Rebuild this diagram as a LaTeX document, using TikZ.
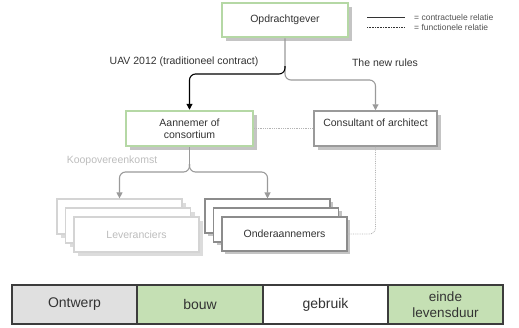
\documentclass[tikz,border=0pt]{standalone}
\usepackage{fontspec}
\setmainfont{Liberation Sans}
\usetikzlibrary{shadows,arrows.meta}
\definecolor{boxgreen}{HTML}{B5D8A5}
\definecolor{cellgreen}{HTML}{C5E0B4}
\definecolor{cellgray}{HTML}{E0E0E0}
\definecolor{textdark}{HTML}{333333}
\definecolor{linegray}{HTML}{9A9A9A}
\definecolor{palegray}{HTML}{D4D4D4}
\definecolor{paletext}{HTML}{BDBDBD}
\definecolor{shadowgray}{HTML}{C4C4C4}
\definecolor{paleshadow}{HTML}{DCDCDC}
\definecolor{stackgray}{HTML}{8C8C8C}
\definecolor{framegray}{HTML}{3C3C3C}
\definecolor{dotgray}{HTML}{B4B4B4}

\begin{document}
\begin{tikzpicture}[x=1pt,y=-1pt,
  base/.style={font=\fontsize{10.5}{12}\selectfont, text=textdark, inner sep=0pt, align=center},
  shadowed/.style={drop shadow={shadow xshift=4pt, shadow yshift=-4pt, fill=#1, opacity=1}},
  greenbox/.style={base, shadowed=shadowgray, draw=boxgreen, line width=2.5pt, fill=white,
    minimum width=126pt, minimum height=34pt},
  graybox/.style={base, shadowed=shadowgray, draw=linegray, line width=1.5pt, fill=white,
    minimum width=123pt, minimum height=35pt},
  levbox/.style={base, shadowed=paleshadow, draw=palegray, line width=1.2pt, fill=white,
    text=paletext, minimum width=125pt, minimum height=35pt},
  ondbox/.style={base, drop shadow={shadow xshift=3pt, shadow yshift=-3pt, fill=shadowgray, opacity=1},
    draw=stackgray, line width=1.1pt, fill=white, minimum width=125pt, minimum height=34pt},
  cell/.style={font=\fontsize{14}{16}\selectfont, text=textdark, draw=framegray, line width=1.8pt,
    minimum width=125.5pt, minimum height=39pt, inner sep=0pt, align=center},
  label/.style={base},
  contract/.style={draw=black, line width=1.1pt, rounded corners=6pt, -{Triangle[width=6pt,length=6pt]}},
  newrule/.style={draw=linegray, line width=1.1pt, rounded corners=6pt, -{Triangle[width=6pt,length=6pt]}},
  functional/.style={draw=dotgray, line width=0.8pt, densely dotted, rounded corners=6pt},
]
\useasboundingbox (0,0) rectangle (519,327);

% main parties
\node[greenbox] (opd) at (285,20) {Opdrachtgever};
\node[greenbox, minimum width=127pt, minimum height=35pt] (aan) at (189.5,128.5) {Aannemer of\\consortium};
\node[graybox] (cons) at (375.5,128.5) {Consultant of architect\\\mbox{}};

% supplier stack
\node[levbox] (lev3) at (119.5,216.5) {};
\node[levbox] (lev2) at (128,225.5) {};
\node[levbox] (lev1) at (136.5,234.5) {Leveranciers};

% subcontractor stack
\node[ondbox] (ond3) at (267.5,216) {};
\node[ondbox] (ond2) at (276,225) {};
\node[ondbox] (ond1) at (284.5,234) {Onderaannemers};

% branching points
\coordinate (split) at (285,66);
\coordinate (split2) at (189.5,164);

% contractual routes from the client
\draw[newrule] (opd.south) -- (split) -- (285,80) -- (cons.north |- 0,80) -- (cons.north);
\draw[contract] (split) -- (285,74) -- (aan.north |- 0,74) -- (aan.north);

% purchase agreements
\draw[linegray, line width=1.1pt] (aan.south) -- (split2);
\draw[newrule] (split2) -- (189.5,172) -- (lev3.north |- 0,172) -- (lev3.north);
\draw[newrule] (split2) -- (189.5,172) -- (ond3.north |- 0,172) -- (ond3.north);

% functional relations
\draw[functional] (aan.east) -- (cons.west);
\draw[functional] (cons.south) -- (cons.south |- ond1.east) -- (ond1.east);

% route labels
\node[label] (uav) at (184,62) {UAV 2012 (traditioneel contract)};
\node[label] (nr) at (385,63) {The new rules};
\node[label, text=paletext] (koop) at (112,161) {Koopovereenkomst};

% legend
\coordinate (la) at (367,17);
\coordinate (lb) at (405,17);
\coordinate (lc) at (367,27);
\coordinate (ld) at (405,27);
\draw[textdark, line width=1pt] (la) -- (lb);
\draw[textdark, line width=0.6pt, densely dotted] (lc) -- (ld);
\node[base, anchor=west, font=\fontsize{8.5}{10}\selectfont, text=textdark!85] (lt1) at (414,17) {= contractuele relatie};
\node[base, anchor=west, font=\fontsize{8.5}{10}\selectfont, text=textdark!85] (lt2) at (414,27) {= functionele relatie};

% life cycle bar
\node[cell, fill=cellgray] (c1) at (74.5,304.5) {Ontwerp};
\node[cell, fill=cellgreen, minimum width=126pt] (c2) at (200,304.5) {bouw};
\node[cell, fill=white] (c3) at (325.5,304.5) {gebruik};
\node[cell, fill=cellgreen, minimum width=115pt, font=\fontsize{13.5}{16}\selectfont] (c4) at (445.5,304.5) {einde\\levensduur};
\end{tikzpicture}
\end{document}
